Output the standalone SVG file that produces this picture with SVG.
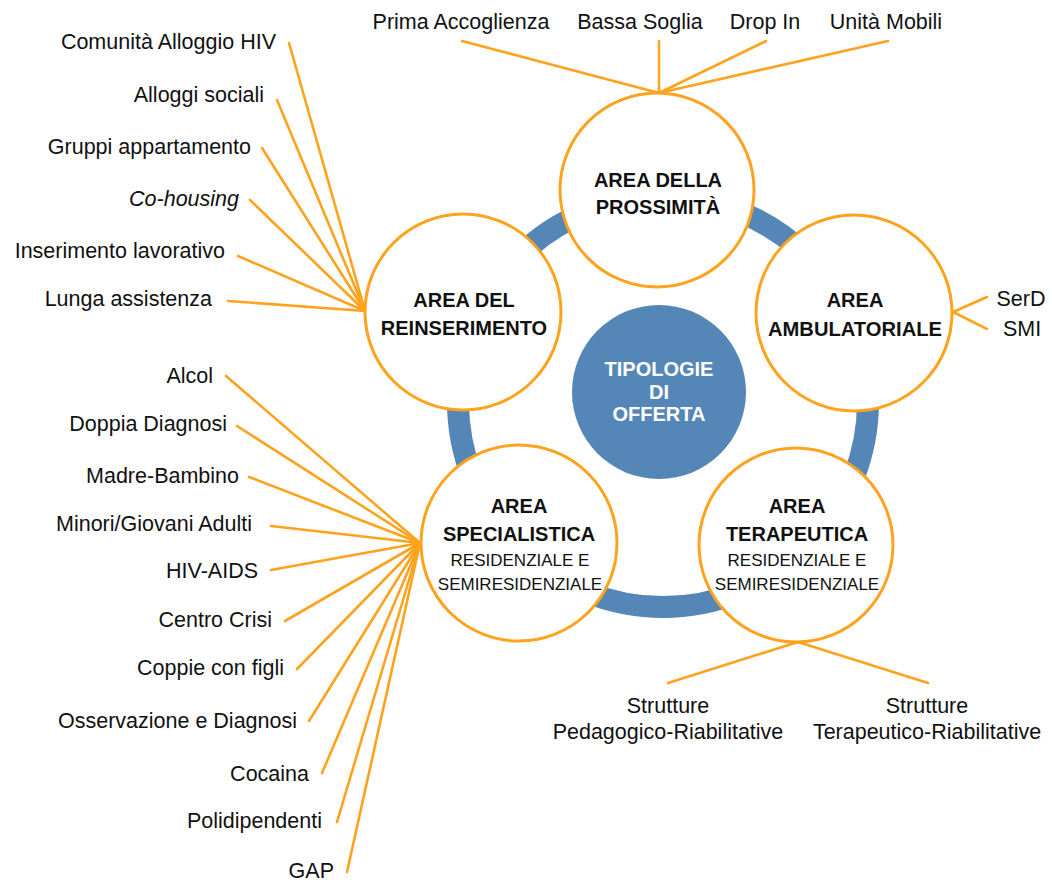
<svg xmlns="http://www.w3.org/2000/svg" width="1052" height="886" viewBox="0 0 1052 886">
<style>
.area{fill:#ffffff;stroke:#FFA31E;stroke-width:3}
.ln{stroke:#FFA31E;stroke-width:2.6;fill:none;stroke-linecap:round}
.t{font-family:"Liberation Sans",Arial,sans-serif;font-size:21.5px;fill:#111111}
.r{text-anchor:end}
.m{text-anchor:middle}
.b{font-family:"Liberation Sans",Arial,sans-serif;font-size:20px;font-weight:bold;fill:#111111;text-anchor:middle}
.s{font-family:"Liberation Sans",Arial,sans-serif;font-size:17px;fill:#111111;text-anchor:middle}
.w{font-family:"Liberation Sans",Arial,sans-serif;font-size:20px;font-weight:bold;fill:#ffffff;text-anchor:middle}
</style>
<rect width="1052" height="886" fill="#ffffff"/>
<g id="ring">
<circle cx="663" cy="402" r="205" fill="none" stroke="#5586B8" stroke-width="22"/>
</g>
<g id="connectors">
<line class="ln" x1="462" y1="41" x2="659" y2="93"/>
<line class="ln" x1="659" y1="41" x2="659" y2="93"/>
<line class="ln" x1="766" y1="41" x2="659" y2="93"/>
<line class="ln" x1="888" y1="41" x2="659" y2="93"/>
<line class="ln" x1="289" y1="43" x2="365" y2="311"/>
<line class="ln" x1="277" y1="100" x2="365" y2="311"/>
<line class="ln" x1="262" y1="148" x2="365" y2="311"/>
<line class="ln" x1="250" y1="200" x2="365" y2="311"/>
<line class="ln" x1="238" y1="256" x2="365" y2="311"/>
<line class="ln" x1="228" y1="301" x2="365" y2="311"/>
<line class="ln" x1="226" y1="376" x2="420" y2="543"/>
<line class="ln" x1="237" y1="426" x2="420" y2="543"/>
<line class="ln" x1="249" y1="477" x2="420" y2="543"/>
<line class="ln" x1="271" y1="526" x2="420" y2="543"/>
<line class="ln" x1="271" y1="570" x2="420" y2="543"/>
<line class="ln" x1="285" y1="621" x2="420" y2="543"/>
<line class="ln" x1="297" y1="669" x2="420" y2="543"/>
<line class="ln" x1="309" y1="721" x2="420" y2="543"/>
<line class="ln" x1="322" y1="773" x2="420" y2="543"/>
<line class="ln" x1="337" y1="822" x2="420" y2="543"/>
<line class="ln" x1="347" y1="872" x2="420" y2="543"/>
<line class="ln" x1="987" y1="297" x2="953" y2="312"/>
<line class="ln" x1="987" y1="329" x2="953" y2="312"/>
<line class="ln" x1="668" y1="683" x2="798" y2="642"/>
<line class="ln" x1="928" y1="683" x2="798" y2="642"/>
</g>
<g id="centro">
<circle cx="659" cy="392" r="87" fill="#5586B8"/>
<text class="w" x="659" y="376">TIPOLOGIE</text>
<text class="w" x="659" y="399">DI</text>
<text class="w" x="659" y="421">OFFERTA</text>
</g>
<g id="prossimita">
<circle class="area" cx="657" cy="190" r="97"/>
<text class="b" x="658" y="187">AREA DELLA</text>
<text class="b" x="658" y="214">PROSSIMITÀ</text>
</g>
<g id="ambulatoriale">
<circle class="area" cx="854" cy="313" r="98"/>
<text class="b" x="855" y="307">AREA</text>
<text class="b" x="855" y="336" textLength="174" lengthAdjust="spacingAndGlyphs">AMBULATORIALE</text>
</g>
<g id="terapeutica">
<circle class="area" cx="796" cy="545" r="97"/>
<text class="b" x="797" y="513">AREA</text>
<text class="b" x="797" y="541">TERAPEUTICA</text>
<text class="s" x="797" y="566">RESIDENZIALE E</text>
<text class="s" x="797" y="590">SEMIRESIDENZIALE</text>
</g>
<g id="specialistica">
<circle class="area" cx="519" cy="543" r="98"/>
<text class="b" x="519" y="513">AREA</text>
<text class="b" x="519" y="541">SPECIALISTICA</text>
<text class="s" x="520" y="566">RESIDENZIALE E</text>
<text class="s" x="520" y="590">SEMIRESIDENZIALE</text>
</g>
<g id="reinserimento">
<circle class="area" cx="463" cy="312" r="98"/>
<text class="b" x="464" y="307">AREA DEL</text>
<text class="b" x="464" y="335">REINSERIMENTO</text>
</g>
<g id="labels-prossimita">
<text class="t m" x="461" y="29">Prima Accoglienza</text>
<text class="t m" x="640" y="29">Bassa Soglia</text>
<text class="t m" x="765" y="29">Drop In</text>
<text class="t m" x="886" y="29">Unità Mobili</text>
</g>
<g id="labels-reinserimento">
<text class="t r" x="276" y="49">Comunità Alloggio HIV</text>
<text class="t r" x="264" y="102">Alloggi sociali</text>
<text class="t r" x="251" y="154">Gruppi appartamento</text>
<text class="t r" x="239" y="206" font-style="italic">Co-housing</text>
<text class="t r" x="225" y="258">Inserimento lavorativo</text>
<text class="t r" x="212" y="306">Lunga assistenza</text>
</g>
<g id="labels-specialistica">
<text class="t r" x="213" y="383">Alcol</text>
<text class="t r" x="227" y="431">Doppia Diagnosi</text>
<text class="t r" x="239" y="483">Madre-Bambino</text>
<text class="t r" x="252" y="531">Minori/Giovani Adulti</text>
<text class="t r" x="258" y="578">HIV-AIDS</text>
<text class="t r" x="272" y="627">Centro Crisi</text>
<text class="t r" x="284" y="675">Coppie con figli</text>
<text class="t r" x="297" y="728">Osservazione e Diagnosi</text>
<text class="t r" x="309" y="781">Cocaina</text>
<text class="t r" x="322" y="828">Polidipendenti</text>
<text class="t r" x="334" y="878">GAP</text>
</g>
<g id="labels-ambulatoriale">
<text class="t m" x="1021" y="306">SerD</text>
<text class="t m" x="1022" y="336">SMI</text>
</g>
<g id="labels-terapeutica">
<text class="t m" x="668" y="713">Strutture</text>
<text class="t m" x="668" y="739">Pedagogico-Riabilitative</text>
<text class="t m" x="927" y="713">Strutture</text>
<text class="t m" x="927" y="739">Terapeutico-Riabilitative</text>
</g>
</svg>
